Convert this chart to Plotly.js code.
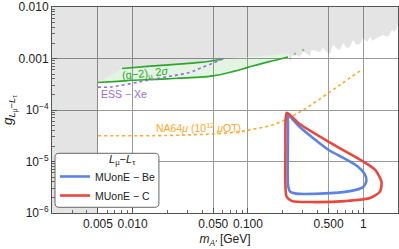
<!DOCTYPE html>
<html>
<head>
<meta charset="utf-8">
<script src="https://cdn.plot.ly/plotly-3.0.1.min.js"></script>
<style>html,body{margin:0;padding:0;background:#fff;}</style>
</head>
<body>
<div id="chart" style="width:399px;height:249px;"></div>
<script>
// ---- data ----
const xTickVals = [0.005, 0.01, 0.05, 0.1, 0.5, 1];
const xTickText = ['0.005', '0.010', '0.050', '0.100', '0.500', '1'];
const yTickVals = [1e-6, 1e-5, 1e-4, 1e-3, 1e-2];
const yTickText = ['10<sup>−6</sup>', '10<sup>−5</sup>', '10<sup>−4</sup>', '0.001', '0.010'];

// (g-2)_mu 2 sigma band
const g2LowerM = [0.005, 0.0075, 0.01, 0.02, 0.035, 0.05, 0.075, 0.1, 0.15, 0.2, 0.223];
const g2LowerG = [3.41e-4, 3.60e-4, 3.77e-4, 4.03e-4, 4.30e-4, 4.60e-4, 5.62e-4, 6.72e-4, 8.59e-4, 1.00e-3, 1.07e-3];
const g2UpperM = [0.005, 0.0081, 0.0142, 0.0235, 0.0385, 0.061, 0.105, 0.16, 0.223];
const g2UpperG = [3.41e-4, 6.4e-4, 7.1e-4, 7.7e-4, 8.4e-4, 9.8e-4, 1.07e-3, 1.17e-3, 1.28e-3];
const g2TailM = [0.256, 0.301];
const g2TailG = [1.23e-3, 1.47e-3];

// excluded region (grey), jagged edge at high mass
const grayEdgeM = [0.232, 0.240, 0.246, 0.267, 0.28, 0.301, 0.345, 0.356, 0.367, 0.422, 0.448, 0.49, 0.515, 0.547, 0.6, 0.628, 0.667, 0.72, 0.767, 0.815, 0.87, 0.936, 0.994, 1.076, 1.143, 1.2, 1.313, 1.48, 1.64, 1.77, 1.88, 2.0];
const grayEdgeG = [8.2e-4, 1.15e-3, 1.12e-3, 1.17e-3, 1.05e-3, 1.36e-3, 1.12e-3, 1.45e-3, 1.47e-3, 1.34e-3, 1.60e-3, 1.30e-3, 1.23e-3, 1.84e-3, 1.52e-3, 1.47e-3, 2.01e-3, 1.60e-3, 1.68e-3, 2.29e-3, 1.85e-3, 1.92e-3, 2.51e-3, 2.10e-3, 2.65e-3, 2.2e-3, 2.51e-3, 2.86e-3, 2.65e-3, 3.58e-3, 3.28e-3, 4.48e-3];

// ESS - Xe
const essM = [0.005, 0.0064, 0.01164, 0.0204, 0.0316, 0.0385, 0.05, 0.061];
const essG = [2.78e-4, 2.8e-4, 3.54e-4, 4.48e-4, 5.38e-4, 6.45e-4, 8.2e-4, 1.0e-3];

// NA64mu (10^12 muOT)
const na64M = [0.005, 0.02, 0.05, 0.0855, 0.115, 0.165, 0.283, 0.422, 0.629, 0.936];
const na64G = [3.16e-5, 3.2e-5, 3.45e-5, 3.8e-5, 4.3e-5, 5.16e-5, 9.2e-5, 1.65e-4, 3.08e-4, 5.75e-4];

// MUonE - Be
const beM = [0.2194, 0.2831, 0.4977, 0.6944, 0.8999, 1.024, 1.066, 0.994, 0.767, 0.4217, 0.2615, 0.2319, 0.2229, 0.2220, 0.2220, 0.2194];
const beG = [8.26e-5, 4.62e-5, 1.69e-5, 1.13e-5, 7.93e-6, 5.81e-6, 4.25e-6, 3.18e-6, 2.66e-6, 2.38e-6, 2.38e-6, 2.6e-6, 3.4e-6, 1.69e-5, 6.18e-5, 8.26e-5];

// MUonE - C
const cM = [0.2173, 0.2831, 0.5466, 0.994, 1.263, 1.438, 1.395, 1.143, 0.694, 0.3455, 0.2414, 0.2163, 0.2112, 0.2112, 0.2121, 0.2173];
const cG = [8.83e-5, 5.28e-5, 2.16e-5, 1.01e-5, 6.93e-6, 4.06e-6, 2.6e-6, 1.95e-6, 1.70e-6, 1.63e-6, 1.70e-6, 2.08e-6, 3.55e-6, 1.69e-5, 6.46e-5, 8.83e-5];

// label positions [mass, g]
const labelG2 = [0.0129, 5.05e-4];
const labelESS = [0.00848, 2.09e-4];
const labelNA64 = [0.0371, 4.6e-5];

const xMin = 0.002, xMax = 2, yMin = 1e-6, yMax = 1e-2;

// ---- build traces ----
const bandX = g2LowerM.concat(g2UpperM.slice().reverse());
const bandY = g2LowerG.concat(g2UpperG.slice().reverse());

const grayX = [xMin, g2UpperM[0]].concat(g2UpperM.slice(0), grayEdgeM, [xMax, xMin]);
const grayY = [yMin, yMin].concat(g2UpperG.slice(0), grayEdgeG, [yMax, yMax]);

const font = 'Liberation Sans, Arial, sans-serif';
const green = '#2aa82a';

const traces = [
  {x: grayX, y: grayY, mode: 'lines', fill: 'toself', fillcolor: 'rgba(0,0,0,0.105)', line: {width: 0}, showlegend: false, hoverinfo: 'skip'},
  {x: bandX, y: bandY, mode: 'lines', fill: 'toself', fillcolor: 'rgba(60,180,60,0.14)', line: {width: 0}, showlegend: false, hoverinfo: 'skip'},
  {x: g2LowerM, y: g2LowerG, mode: 'lines', line: {color: green, width: 1.6, shape: 'spline'}, showlegend: false},
  {x: g2UpperM.slice(1, 6), y: g2UpperG.slice(1, 6), mode: 'lines', line: {color: green, width: 1.6, shape: 'spline'}, showlegend: false},
  {x: g2TailM, y: g2TailG, mode: 'markers', marker: {color: '#7fcf7f', size: 2.5}, showlegend: false},
  {x: essM, y: essG, mode: 'lines', line: {color: '#9a6be0', width: 1.6, dash: 'dot', shape: 'spline'}, showlegend: false},
  {x: na64M, y: na64G, mode: 'lines', line: {color: '#ffa726', width: 1.6, dash: 'dot', shape: 'spline'}, showlegend: false},
  {x: beM, y: beG, mode: 'lines', name: 'MUonE − Be', line: {color: '#5b83e6', width: 2.6, shape: 'spline', smoothing: 0.7}},
  {x: cM, y: cG, mode: 'lines', name: 'MUonE − C', line: {color: '#e8473d', width: 2.6, shape: 'spline', smoothing: 0.7}}
];

const axisCommon = {
  type: 'log', showline: true, linecolor: '#555', linewidth: 1, mirror: true,
  ticks: 'inside', ticklen: 5, tickcolor: '#555', tickwidth: 1,
  showgrid: true, gridcolor: '#9a9a9a', gridwidth: 1, zeroline: false,
  tickmode: 'array',
  tickfont: {family: font, size: 12, color: '#222'},
  minor: {dtick: 'D1', ticks: 'inside', ticklen: 3, tickcolor: '#666', showgrid: false},
  automargin: false
};

// rounded legend box (paper coords), sized to hold Plotly's legend entries
const bx0 = 0.0087, bx1 = 0.309, by0 = 0.0277, by1 = 0.2898, rx = 0.0116, ry = 0.0194;
const boxPath = `M${bx0+rx},${by0} L${bx1-rx},${by0} Q${bx1},${by0} ${bx1},${by0+ry} L${bx1},${by1-ry} Q${bx1},${by1} ${bx1-rx},${by1} L${bx0+rx},${by1} Q${bx0},${by1} ${bx0},${by1-ry} L${bx0},${by0+ry} Q${bx0},${by0} ${bx0+rx},${by0} Z`;

const layout = {
  width: 399, height: 249,
  margin: {l: 52, r: 1, t: 7, b: 36, pad: 0},
  paper_bgcolor: '#fff', plot_bgcolor: '#fff',
  font: {family: font, color: '#222'},
  xaxis: Object.assign({}, axisCommon, {
    range: [Math.log10(xMin), Math.log10(xMax)],
    tickvals: xTickVals, ticktext: xTickText,
    title: {text: '<i>m</i><sub><i>A\'</i></sub> [GeV]', font: {family: font, size: 12, color: '#222'}, standoff: 4}
  }),
  yaxis: Object.assign({}, axisCommon, {
    range: [Math.log10(yMin), Math.log10(yMax)],
    tickvals: yTickVals, ticktext: yTickText,
    title: {text: '<i>g</i><sub><i>L</i><sub>μ</sub>−<i>L</i><sub>τ</sub></sub>', font: {family: font, size: 13.5, color: '#222'}, standoff: 3}
  }),
  shapes: [{type: 'path', xref: 'paper', yref: 'paper', path: boxPath, fillcolor: '#fff', line: {color: '#666', width: 1}, layer: 'above'}],
  legend: {
    x: 0.0087, y: 0.2476, xanchor: 'left', yanchor: 'top',
    bgcolor: 'rgba(0,0,0,0)', borderwidth: 0,
    font: {family: font, size: 10.5, color: '#222'},
    itemwidth: 30, tracegroupgap: 0
  },
  annotations: [
    {x: (bx0 + bx1) / 2, y: 0.215, xref: 'paper', yref: 'paper', text: '<i>L</i><sub>μ</sub>−<i>L</i><sub>τ</sub>', showarrow: false, font: {family: font, size: 11, color: '#222'}},
    {x: Math.log10(labelG2[0]), y: Math.log10(labelG2[1]), text: '(g−2)<sub>μ</sub> 2<i>σ</i>', showarrow: false, textangle: -6, font: {family: font, size: 11, color: green}},
    {x: Math.log10(labelESS[0]), y: Math.log10(labelESS[1]), text: 'ESS − Xe', showarrow: false, font: {family: font, size: 10.5, color: '#9a6be0'}},
    {x: Math.log10(labelNA64[0]), y: Math.log10(labelNA64[1]), text: 'NA64<i>μ</i> (10<sup>12</sup> <i>μ</i>OT)', showarrow: false, font: {family: font, size: 10.5, color: '#ffa726'}}
  ]
};

Plotly.newPlot('chart', traces, layout, {staticPlot: true, displayModeBar: false});
</script>
</body>
</html>
